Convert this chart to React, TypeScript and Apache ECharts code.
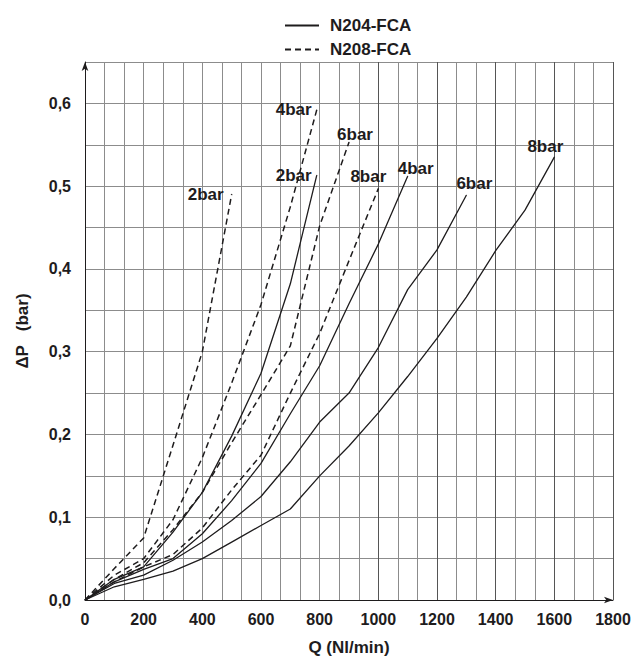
import React, { useEffect, useRef } from "react";
import * as echarts from "echarts";

// Legend names
const seriesNames = ["N204-FCA", "N208-FCA"];
// Curve labels (inlet pressure)
const pressureLabels = ["2bar", "4bar", "6bar", "8bar"];

// N204-FCA (solid) : [Q (Nl/min), ΔP (bar)]
const n204_2bar = [[0, 0], [100, 0.025], [200, 0.04], [300, 0.082], [400, 0.13], [500, 0.198], [600, 0.274], [700, 0.382], [790, 0.513]];
const n204_4bar = [[0, 0], [100, 0.022], [200, 0.037], [300, 0.05], [400, 0.08], [500, 0.12], [600, 0.165], [700, 0.225], [800, 0.283], [900, 0.358], [1000, 0.43], [1100, 0.512]];
const n204_6bar = [[0, 0], [100, 0.02], [200, 0.03], [300, 0.048], [400, 0.07], [500, 0.096], [600, 0.125], [700, 0.167], [800, 0.215], [900, 0.25], [1000, 0.305], [1100, 0.375], [1200, 0.423], [1300, 0.489]];
const n204_8bar = [[0, 0], [100, 0.016], [200, 0.025], [300, 0.035], [400, 0.05], [500, 0.07], [600, 0.09], [700, 0.11], [800, 0.15], [900, 0.186], [1000, 0.226], [1100, 0.27], [1200, 0.316], [1300, 0.366], [1400, 0.422], [1500, 0.471], [1600, 0.535]];

// N208-FCA (dashed)
const n208_2bar = [[0, 0], [100, 0.038], [200, 0.075], [300, 0.187], [400, 0.3], [500, 0.49]];
const n208_4bar = [[0, 0], [100, 0.03], [200, 0.05], [300, 0.097], [400, 0.172], [500, 0.262], [600, 0.357], [700, 0.475], [790, 0.592]];
const n208_6bar = [[0, 0], [100, 0.025], [200, 0.045], [300, 0.085], [400, 0.13], [500, 0.19], [600, 0.248], [700, 0.307], [800, 0.452], [900, 0.553]];
const n208_8bar = [[0, 0], [100, 0.022], [200, 0.04], [300, 0.055], [400, 0.087], [500, 0.133], [600, 0.175], [700, 0.25], [800, 0.322], [900, 0.41], [1000, 0.497]];

const INK = "#1e1c1d";
const GRID = "#8c8c8c";
const GRID_DARK = "#555555";
const FONT = "'Liberation Sans', Arial, Helvetica, sans-serif";

export default function App() {
  const ref = useRef<HTMLDivElement>(null);

  useEffect(() => {
    document.body.style.margin = "0";
    if (!ref.current) return;
    const chart = echarts.init(ref.current, null, { renderer: "svg" });

    const solid = [n204_2bar, n204_4bar, n204_6bar, n204_8bar];
    const dashed = [n208_2bar, n208_4bar, n208_6bar, n208_8bar];

    // label offsets (px) relative to curve end
    const solidOffsets = [[-23, 0], [8, -8], [8, -12], [-9, -11]];
    const dashedOffsets = [[-26, 0], [-23, -1], [6, -8], [-10, -12]];

    const lineSeries: any[] = [];
    solid.forEach((d) => {
      lineSeries.push({
        type: "line",
        name: seriesNames[0],
        data: d,
        symbol: "none",
        color: INK,
        lineStyle: { color: INK, width: 1.3, type: "solid" },
        z: 3,
      });
    });
    dashed.forEach((d) => {
      lineSeries.push({
        type: "line",
        name: seriesNames[1],
        data: d,
        symbol: "none",
        color: INK,
        lineStyle: { color: INK, width: 1.5, type: [6, 4] },
        z: 3,
      });
    });

    const labelData: any[] = [];
    solid.forEach((d, i) => {
      labelData.push({ name: pressureLabels[i], value: d[d.length - 1], label: { offset: solidOffsets[i] } });
    });
    dashed.forEach((d, i) => {
      labelData.push({ name: pressureLabels[i], value: d[d.length - 1], label: { offset: dashedOffsets[i] } });
    });

    const xSplitColors = [GRID, GRID, GRID, GRID, GRID, GRID_DARK, GRID_DARK, GRID_DARK, GRID_DARK, GRID_DARK];

    const option: any = {
      animation: false,
      backgroundColor: "#ffffff",
      textStyle: { fontFamily: FONT },
      legend: {
        data: seriesNames,
        orient: "vertical",
        left: 279,
        top: 12,
        itemWidth: 34,
        itemHeight: 14,
        itemGap: 7,
        selectedMode: false,
        itemStyle: { opacity: 0, borderWidth: 0 },
        textStyle: { fontSize: 17, fontWeight: "bold", color: INK, fontFamily: FONT, padding: [0, 0, 0, 6] },
      },
      grid: { left: 85, right: 24, top: 62, bottom: 63 },
      xAxis: {
        type: "value",
        min: 0,
        max: 1800,
        interval: 200,
        name: "Q (Nl/min)",
        nameLocation: "middle",
        nameGap: 39,
        nameTextStyle: { fontSize: 17, fontWeight: "bold", color: INK, fontFamily: FONT },
        axisLine: {
          show: true,
          onZero: false,
          symbol: ["none", "arrow"],
          symbolSize: [5, 9],
          lineStyle: { color: INK, width: 1 },
        },
        axisTick: { show: false },
        minorTick: { show: false, splitNumber: 3 },
        minorSplitLine: { show: true, lineStyle: { color: GRID, width: 1 } },
        splitLine: { show: true, lineStyle: { color: xSplitColors, width: 1 } },
        axisLabel: {
          fontSize: 16,
          fontWeight: "bold",
          color: INK,
          margin: 11,
          fontFamily: FONT,
          formatter: (v: number) => String(Math.round(v)),
        },
      },
      yAxis: {
        type: "value",
        min: 0,
        max: 0.65,
        interval: 0.05,
        name: "ΔP   (bar)",
        nameLocation: "middle",
        nameGap: 54,
        nameRotate: 90,
        nameTextStyle: { fontSize: 17, fontWeight: "bold", color: INK, fontFamily: FONT },
        axisLine: {
          show: true,
          onZero: false,
          symbol: ["none", "arrow"],
          symbolSize: [5, 9],
          lineStyle: { color: INK, width: 1 },
        },
        axisTick: { show: false },
        splitLine: { show: true, lineStyle: { color: GRID, width: 1 } },
        axisLabel: {
          fontSize: 16,
          fontWeight: "bold",
          color: INK,
          margin: 14,
          fontFamily: FONT,
          formatter: (v: number) => {
            const k = Math.round(v * 100);
            return k % 10 === 0 ? (k / 100).toFixed(1).replace(".", ",") : "";
          },
        },
      },
      series: [
        ...lineSeries,
        {
          type: "scatter",
          name: "labels",
          data: labelData,
          symbolSize: 1,
          silent: true,
          itemStyle: { color: INK, opacity: 1 },
          label: {
            show: true,
            position: "inside",
            formatter: "{b}",
            fontSize: 17,
            fontWeight: "bold",
            color: INK,
            opacity: 1,
            textBorderWidth: 0,
            fontFamily: FONT,
          },
          z: 5,
        },
      ],
    };

    chart.setOption(option);
    return () => chart.dispose();
  }, []);

  return <div ref={ref} style={{ width: 637, height: 663 }} />;
}
